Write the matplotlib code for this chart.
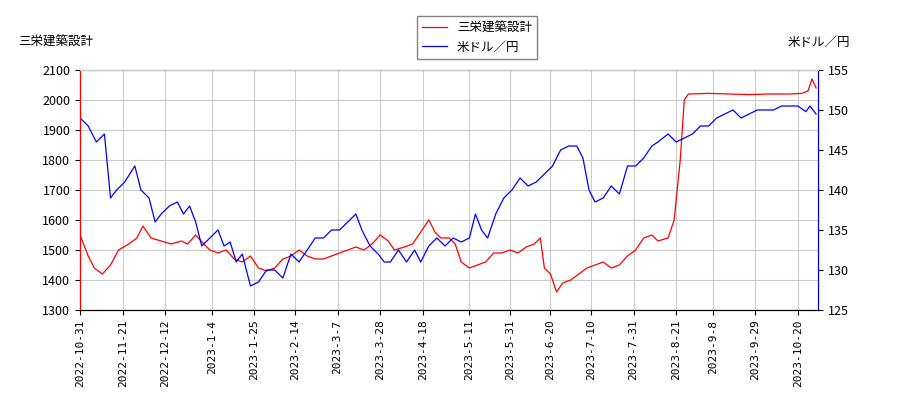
import matplotlib
matplotlib.use('Agg')
import matplotlib.pyplot as plt
import pandas as pd

plt.rcParams['font.family'] = ['Noto Sans CJK JP', 'DejaVu Sans']

start = pd.Timestamp('2022-10-31')

# 三栄建築設計 (day offset, price)
red_days = [0, 4, 7, 11, 15, 19, 24, 28, 31, 35, 40, 45, 50, 53, 57, 61, 64, 68, 72, 76, 80, 84, 88, 92, 96,
            100, 104, 108, 112, 116, 120, 124, 128, 132, 136, 140, 144, 148, 152, 155, 160, 164, 168, 172, 175,
            178, 182, 185, 188, 192, 196, 200, 204, 208, 212, 216, 220, 224, 227, 229, 232, 235, 238, 242, 246,
            250, 254, 258, 262, 266, 270, 274, 278, 282, 285, 290, 293, 296, 298, 300, 310, 320, 330, 340, 350,
            356, 359, 361, 363]
red_vals = [1550, 1480, 1440, 1420, 1450, 1500, 1520, 1540, 1580, 1540, 1530, 1520, 1530, 1520, 1550, 1520,
            1500, 1490, 1500, 1470, 1460, 1480, 1440, 1430, 1440, 1470, 1480, 1500, 1480, 1470, 1470, 1480,
            1490, 1500, 1510, 1500, 1520, 1550, 1530, 1500, 1510, 1520, 1560, 1600, 1560, 1540, 1540, 1520,
            1460, 1440, 1450, 1460, 1490, 1490, 1500, 1490, 1510, 1520, 1540, 1440, 1420, 1360, 1390, 1400,
            1420, 1440, 1450, 1460, 1440, 1450, 1480, 1500, 1540, 1550, 1530, 1540, 1600, 1800, 2000, 2020,
            2022, 2020, 2018, 2020, 2020, 2022, 2030, 2070, 2040]

# 米ドル／円 (day offset, rate)
blue_days = [0, 4, 8, 12, 15, 18, 22, 27, 30, 34, 37, 40, 44, 48, 51, 54, 57, 60, 64, 68, 71, 74, 77, 80, 84,
             88, 92, 96, 100, 104, 108, 112, 116, 120, 124, 128, 132, 136, 139, 143, 147, 150, 153, 157, 161,
             165, 168, 172, 176, 180, 184, 188, 192, 195, 198, 201, 205, 209, 213, 217, 221, 225, 229, 233,
             237, 241, 245, 248, 251, 254, 258, 262, 266, 270, 274, 278, 282, 285, 290, 294, 298, 302, 306,
             310, 314, 318, 322, 326, 330, 334, 338, 342, 346, 350, 354, 358, 360, 363]
blue_vals = [149, 148, 146, 147, 139, 140, 141, 143, 140, 139, 136, 137, 138, 138.5, 137, 138, 136, 133, 134,
             135, 133, 133.5, 131, 132, 128, 128.5, 130, 130, 129, 132, 131, 132.5, 134, 134, 135, 135, 136,
             137, 135, 133, 132, 131, 131, 132.5, 131, 132.5, 131, 133, 134, 133, 134, 133.5, 134, 137, 135,
             134, 137, 139, 140, 141.5, 140.5, 141, 142, 143, 145, 145.5, 145.5, 144, 140, 138.5, 139, 140.5,
             139.5, 143, 143, 144, 145.5, 146, 147, 146, 146.5, 147, 148, 148, 149, 149.5, 150, 149, 149.5,
             150, 150, 150, 150.5, 150.5, 150.5, 149.8, 150.5, 149.5]

tick_labels = ['2022-10-31', '2022-11-21', '2022-12-12', '2023-1-4', '2023-1-25', '2023-2-14', '2023-3-7',
               '2023-3-28', '2023-4-18', '2023-5-11', '2023-5-31', '2023-6-20', '2023-7-10', '2023-7-31',
               '2023-8-21', '2023-9-8', '2023-9-29', '2023-10-20']

red_x = [start + pd.Timedelta(days=d) for d in red_days]
blue_x = [start + pd.Timedelta(days=d) for d in blue_days]

fig = plt.figure(figsize=(9, 4), dpi=100)
ax = fig.add_axes([0.089, 0.225, 0.82, 0.6])
ax2 = ax.twinx()

l1, = ax.plot(red_x, red_vals, color='red', lw=0.9, label='三栄建築設計')
l2, = ax2.plot(blue_x, blue_vals, color='blue', lw=0.9, label='米ドル／円')

ax.set_ylim(1300, 2100)
ax2.set_ylim(125, 155)
ax.set_xlim(start, start + pd.Timedelta(days=364))
ticks = [pd.Timestamp(t) for t in tick_labels]
ax.set_xticks(ticks)
ax.set_xticklabels(tick_labels, rotation=90, fontsize=8, family='DejaVu Sans Mono')
ax.tick_params(axis='y', labelsize=9)
ax2.tick_params(axis='y', labelsize=9)
ax.grid(color='#cccccc', lw=0.8)
ax2.spines['left'].set_color('red')
ax2.spines['right'].set_color('blue')
ax2.spines['top'].set_color('#cccccc')

fig.text(0.02, 0.885, '三栄建築設計', fontsize=9)
fig.text(0.945, 0.885, '米ドル／円', fontsize=9, ha='right')
fig.legend(handles=[l1, l2], loc='upper center', bbox_to_anchor=(0.53, 0.975), fontsize=9,
           fancybox=False, edgecolor='#666666')

fig.savefig('out.png')
